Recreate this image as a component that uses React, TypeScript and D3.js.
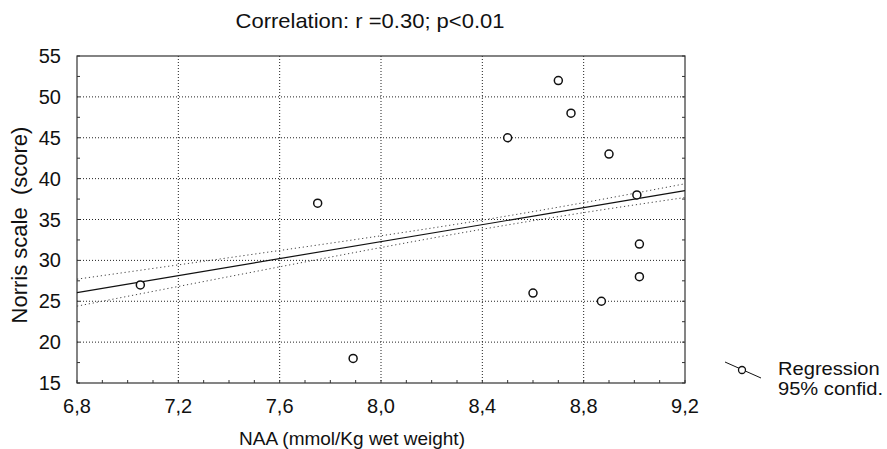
import React from "react";
import * as d3 from "d3";

const naa = [7.05, 7.75, 7.89, 8.5, 8.7, 8.75, 8.9, 9.01, 9.02, 9.02, 8.6, 8.87];
const norris = [27, 37, 18, 45, 52, 48, 43, 38, 32, 28, 26, 25];

const bandX = [6.8, 7.2, 7.6, 8.0, 8.4, 8.8, 9.2];
const bandUpper = [27.7, 29.45, 31.21, 33.01, 34.93, 37.06, 39.37];
const bandLower = [24.4, 26.81, 29.21, 31.57, 33.81, 35.84, 37.69];

const xTicks = [6.8, 7.2, 7.6, 8.0, 8.4, 8.8, 9.2];
const xTickLabels = ["6,8", "7,2", "7,6", "8,0", "8,4", "8,8", "9,2"];
const yTicks = [15, 20, 25, 30, 35, 40, 45, 50, 55];

const titleText = "Correlation: r =0.30; p<0.01";
const xTitle = "NAA (mmol/Kg wet weight)";
const yTitle = "Norris scale  (score)";
const legendLabels = ["Regression", "95% confid."];

const W = 887;
const H = 449;
const L = 77, R = 685, T = 56, B = 383;
const FONT = "'Liberation Sans', Arial, sans-serif";

export default function App() {
  const x = d3.scaleLinear().domain([6.8, 9.2]).range([L, R]);
  const y = d3.scaleLinear().domain([15, 55]).range([B, T]);

  const mx = d3.mean(naa) as number;
  const my = d3.mean(norris) as number;
  let sxy = 0, sxx = 0;
  naa.forEach((v, i) => {
    sxy += (v - mx) * (norris[i] - my);
    sxx += (v - mx) * (v - mx);
  });
  const slope = sxy / sxx;
  const icpt = my - slope * mx;
  const reg = (v: number) => icpt + slope * v;

  const bandLine = d3
    .line<number>()
    .x((d, i) => x(bandX[i]))
    .y((d) => y(d))
    .curve(d3.curveNatural);

  const minorX = d3.range(68, 93).map((v) => v / 10);
  const minorY = d3.range(0, 17).map((i) => 15 + i * 2.5);

  return (
    <svg
      width={W}
      height={H}
      style={{ position: "absolute", left: 0, top: 0, background: "#fff" }}
      fontFamily={FONT}
    >
      <rect x={0} y={0} width={W} height={H} fill="#fff" />
      {/* grid */}
      {xTicks.slice(1, -1).map((t) => (
        <line key={"gx" + t} x1={x(t)} x2={x(t)} y1={T} y2={B} stroke="#222" strokeWidth={1} strokeDasharray="1,2" />
      ))}
      {yTicks.slice(1, -1).map((t) => (
        <line key={"gy" + t} x1={L} x2={R} y1={y(t)} y2={y(t)} stroke="#222" strokeWidth={1} strokeDasharray="1,2" />
      ))}
      {/* minor ticks */}
      {minorX.map((t) => (
        <line key={"mx" + t} x1={x(t)} x2={x(t)} y1={B} y2={B - 3} stroke="#333" strokeWidth={1} />
      ))}
      {minorY.map((t) => (
        <line key={"my" + t} x1={L} x2={L + 3} y1={y(t)} y2={y(t)} stroke="#333" strokeWidth={1} />
      ))}
      {minorY.map((t) => (
        <line key={"myr" + t} x1={R} x2={R - 3} y1={y(t)} y2={y(t)} stroke="#333" strokeWidth={1} />
      ))}
      {/* frame */}
      <rect x={L} y={T} width={R - L} height={B - T} fill="none" stroke="#333" strokeWidth={1.2} />

      {/* confidence bands */}
      <path d={bandLine(bandUpper) || ""} fill="none" stroke="#444" strokeWidth={1} strokeDasharray="1.2,2.8" />
      <path d={bandLine(bandLower) || ""} fill="none" stroke="#444" strokeWidth={1} strokeDasharray="1.2,2.8" />
      {/* regression */}
      <line x1={x(6.8)} x2={x(9.2)} y1={y(reg(6.8))} y2={y(reg(9.2))} stroke="#111" strokeWidth={1.2} />

      {/* points */}
      {naa.map((v, i) => (
        <circle key={"p" + i} cx={x(v)} cy={y(norris[i])} r={4} fill="#fff" stroke="#111" strokeWidth={1.5} />
      ))}

      {/* tick labels */}
      {xTicks.map((t, i) => (
        <text key={"xt" + t} x={x(t)} y={413} textAnchor="middle" fontSize={20} fill="#111">
          {xTickLabels[i]}
        </text>
      ))}
      {yTicks.map((t) => (
        <text key={"yt" + t} x={61} y={y(t) + 7} textAnchor="end" fontSize={20} fill="#111">
          {t}
        </text>
      ))}

      {/* titles */}
      <text
        transform="translate(370, 28) scale(1.1, 1)"
        textAnchor="middle"
        fontSize={20}
        fill="#111"
      >
        {titleText}
      </text>
      <text x={352} y={445} textAnchor="middle" fontSize={19} fill="#111">
        {xTitle}
      </text>
      <text
        transform={`translate(27, 225) rotate(-90)`}
        textAnchor="middle"
        fontSize={22}
        fill="#111"
        style={{ whiteSpace: "pre" }}
      >
        {yTitle}
      </text>

      {/* legend */}
      <line x1={725} y1={362} x2={761} y2={378} stroke="#111" strokeWidth={1} />
      <circle cx={742} cy={370} r={3.5} fill="#fff" stroke="#111" strokeWidth={1.3} />
      <text transform="translate(778, 375) scale(1.15, 1)" fontSize={17.5} fill="#111">
        {legendLabels[0]}
      </text>
      <text transform="translate(778, 395) scale(1.15, 1)" fontSize={17.5} fill="#111">
        {legendLabels[1]}
      </text>
    </svg>
  );
}
